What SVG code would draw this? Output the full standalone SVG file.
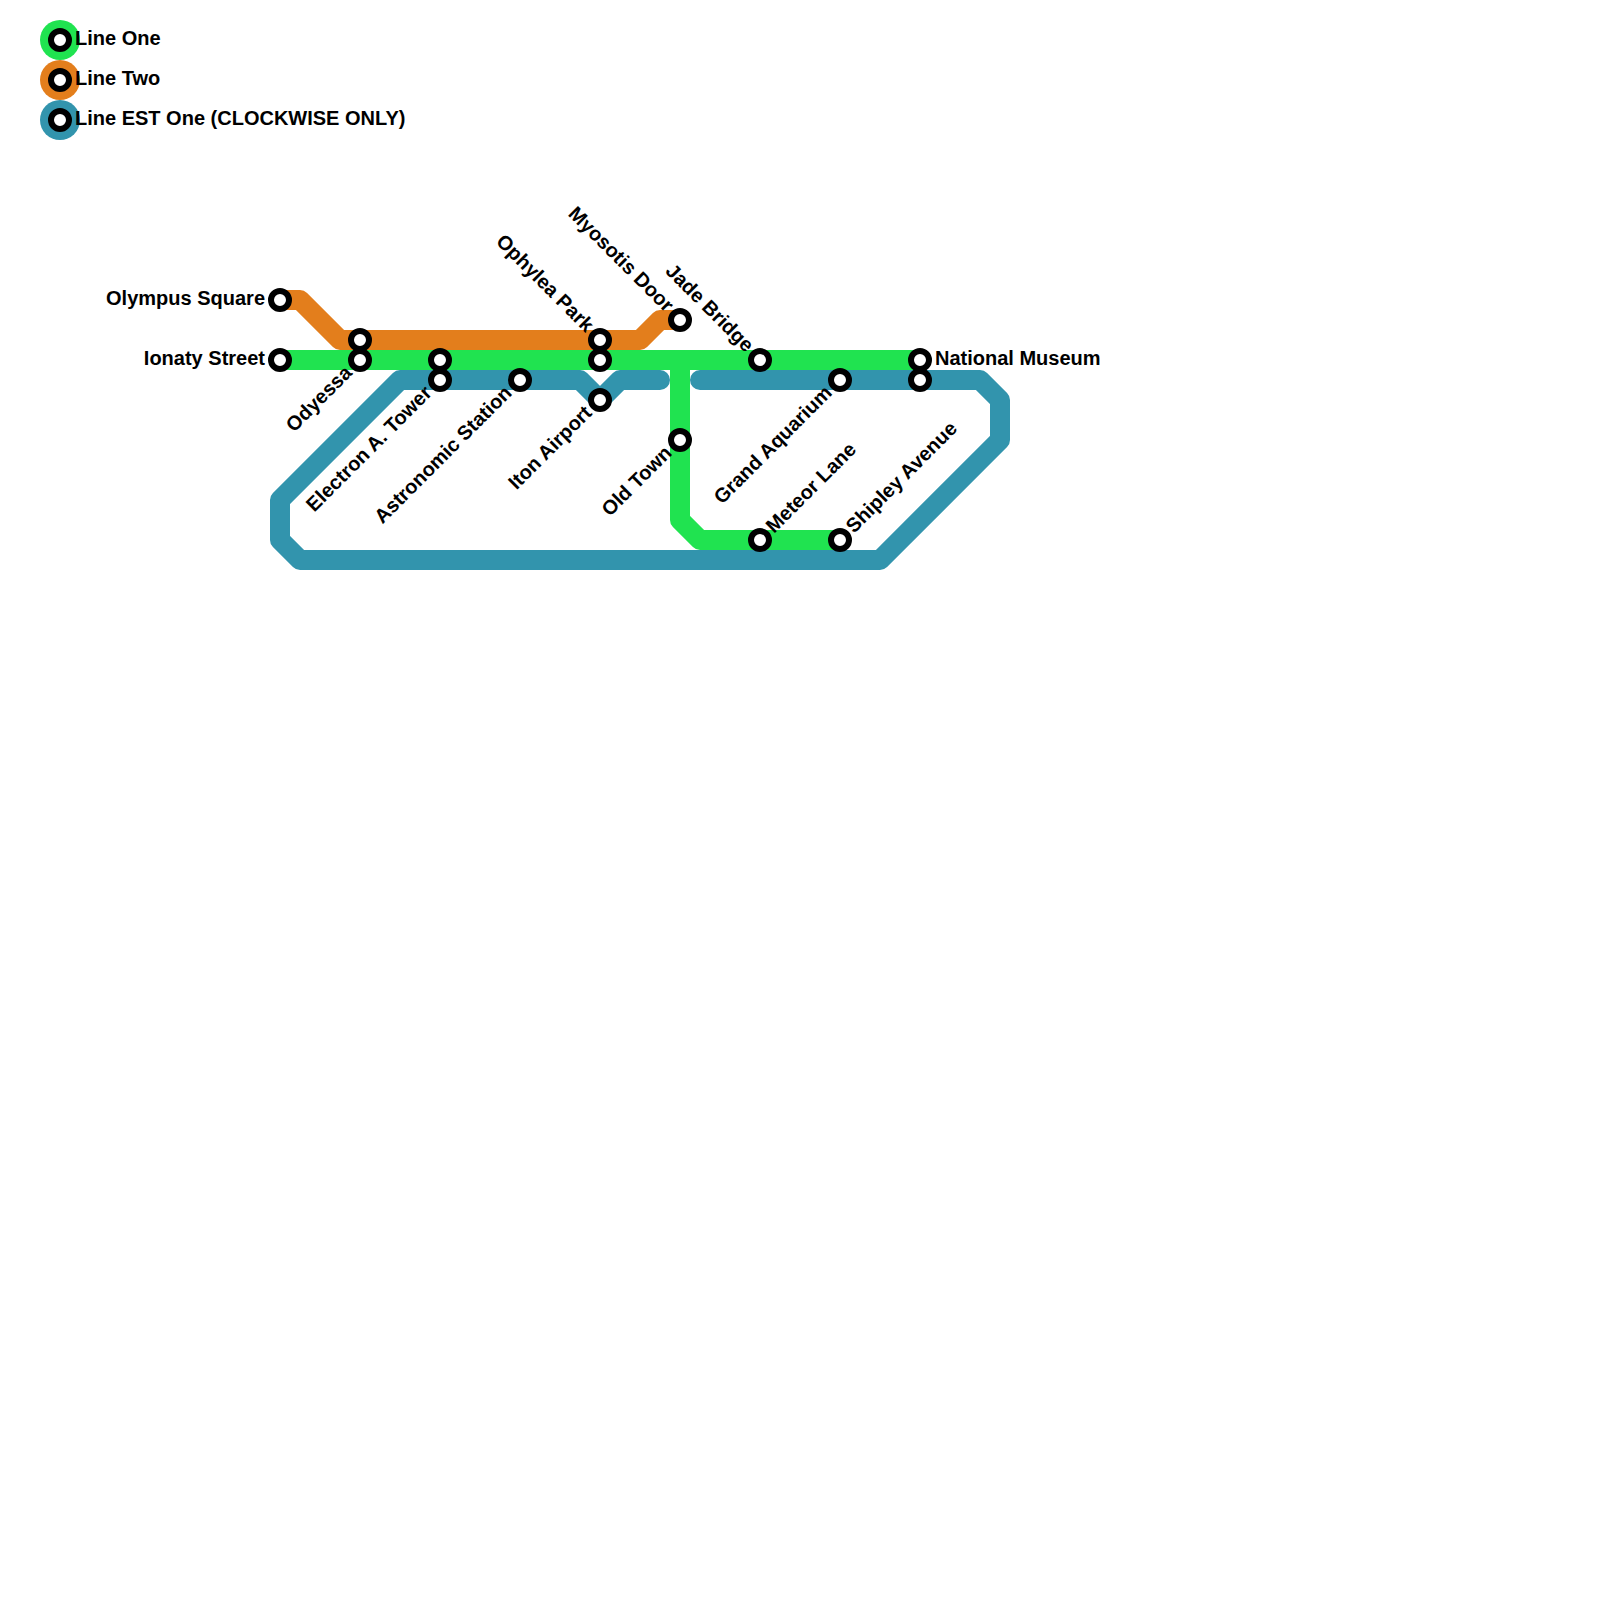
<svg xmlns="http://www.w3.org/2000/svg" width="1600" height="1600" viewBox="0 0 1600 1600">
<style>
.bg{fill:#fff}
.line{fill:none;stroke-width:20;stroke-linejoin:round;stroke-linecap:round}
.green{stroke:#20e350}.orange{stroke:#e37e1c}.blue{stroke:#3294ad}
.st{fill:#fff;stroke:#000;stroke-width:6}
text{font-family:"Liberation Sans",Arial,sans-serif;font-weight:700;font-size:20px;fill:#000}
.e{text-anchor:end}
</style>
<rect class="bg" width="1600" height="1600"/>
<g id="connectors">
<path id="line-two" class="line orange" style="stroke-linecap:butt" d="M280 300H300L340 340H640L660 320H680"/>
<path id="line-one" class="line green" style="stroke-linecap:butt" d="M280 360H920"/>
<path id="line-one-branch" class="line green" style="stroke-linecap:butt" d="M680 360V520L700 540H840"/>
<path id="line-est-one" class="line blue" d="M700 380H980L1000 400V440L880 560H300L280 540V500L400 380H580L600 400L620 380H660"/>
</g>
<g id="legend-one"><circle cx="60" cy="40" r="20" fill="#20e350"/><circle class="st" cx="60" cy="40" r="9"/><text x="75" y="45">Line One</text></g>
<g id="legend-two"><circle cx="60" cy="80" r="20" fill="#e37e1c"/><circle class="st" cx="60" cy="80" r="9"/><text x="75" y="85">Line Two</text></g>
<g id="legend-est"><circle cx="60" cy="120" r="20" fill="#3294ad"/><circle class="st" cx="60" cy="120" r="9"/><text x="75" y="124.5">Line EST One (CLOCKWISE ONLY)</text></g>
<g id="olympus-square"><circle class="st" cx="280" cy="300" r="9"/><text class="e" x="265" y="305">Olympus Square</text></g>
<g id="ionaty-street"><circle class="st" cx="280" cy="360" r="9"/><text class="e" x="265" y="365">Ionaty Street</text></g>
<g id="odyessa"><circle class="st" cx="360" cy="340" r="9"/><circle class="st" cx="360" cy="360" r="9"/><text class="e" transform="translate(353 374) rotate(-45)">Odyessa</text></g>
<g id="electron-a-tower"><circle class="st" cx="440" cy="360" r="9"/><circle class="st" cx="440" cy="380" r="9"/><text class="e" transform="translate(433 394) rotate(-45)">Electron A. Tower</text></g>
<g id="astronomic-station"><circle class="st" cx="520" cy="380" r="9"/><text class="e" transform="translate(513 394) rotate(-45)">Astronomic Station</text></g>
<g id="iton-airport"><circle class="st" cx="600" cy="400" r="9"/><text class="e" transform="translate(593 414) rotate(-45)">Iton Airport</text></g>
<g id="ophylea-park"><circle class="st" cx="600" cy="340" r="9"/><circle class="st" cx="600" cy="360" r="9"/><text class="e" transform="translate(585.5 333) rotate(45)">Ophylea Park</text></g>
<g id="myosotis-door"><circle class="st" cx="680" cy="320" r="9"/><text class="e" transform="translate(665.5 313) rotate(45)">Myosotis Door</text></g>
<g id="jade-bridge"><circle class="st" cx="760" cy="360" r="9"/><text class="e" transform="translate(745.5 353) rotate(45)">Jade Bridge</text></g>
<g id="old-town"><circle class="st" cx="680" cy="440" r="9"/><text class="e" transform="translate(673 454) rotate(-45)">Old Town</text></g>
<g id="grand-aquarium"><circle class="st" cx="840" cy="380" r="9"/><text class="e" transform="translate(833 394) rotate(-45)">Grand Aquarium</text></g>
<g id="meteor-lane"><circle class="st" cx="760" cy="540" r="9"/><text transform="translate(774 534) rotate(-45)">Meteor Lane</text></g>
<g id="shipley-avenue"><circle class="st" cx="840" cy="540" r="9"/><text transform="translate(854 534) rotate(-45)">Shipley Avenue</text></g>
<g id="national-museum"><circle class="st" cx="920" cy="360" r="9"/><circle class="st" cx="920" cy="380" r="9"/><text x="935" y="365">National Museum</text></g>
</svg>
